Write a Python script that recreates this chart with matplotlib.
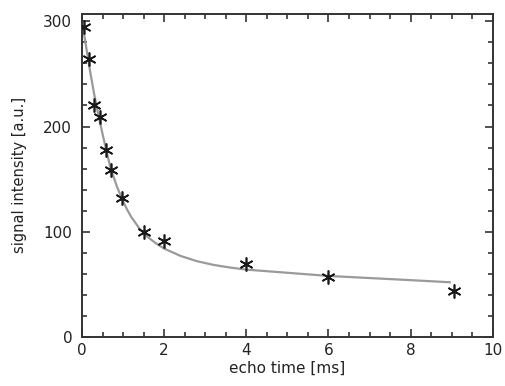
import numpy as np
import matplotlib.pyplot as plt
from matplotlib.ticker import MultipleLocator

# measured points
echo_time = [0.05, 0.17, 0.30, 0.45, 0.58, 0.71, 0.97, 1.5, 2.0, 4.0, 6.0, 9.05]
signal = [295, 264, 220, 209, 178, 159, 132, 100, 91, 69, 57, 44]

# fitted curve
fit_t = [0.0, 0.1, 0.2, 0.3, 0.4, 0.5, 0.6, 0.7, 0.85, 1.0, 1.1, 1.2, 1.4, 1.6,
         1.8, 2.0, 2.4, 2.8, 3.2, 3.6, 4.0, 5.0, 6.0, 7.0, 8.0, 8.95]
fit_s = [300, 276, 252, 230, 211, 193, 176, 160, 143, 129, 121, 114, 103, 95,
         89, 84, 77, 72, 68.5, 66, 64, 61, 58, 56, 54, 52]

fig = plt.figure(figsize=(5.06, 3.86), dpi=100)
ax = fig.add_axes([0.162, 0.127, 0.812, 0.837])

ax.plot(fit_t, fit_s, color='#9a9a9a', lw=1.6, zorder=2)
ax.plot(echo_time, signal, ls='none', marker=(6, 2, 0), ms=10, mew=1.2,
        color='#1a1a1a', zorder=3)

ax.set_xlim(0, 10)
ax.set_ylim(0, 307)
ax.set_xticks([0, 2, 4, 6, 8, 10])
ax.set_yticks([0, 100, 200, 300])
ax.xaxis.set_minor_locator(MultipleLocator(0.5))
ax.yaxis.set_minor_locator(MultipleLocator(20))
ax.tick_params(which='both', direction='in', top=True, right=True,
               width=1.2, color='#333333', labelsize=11, labelcolor='#222222')
ax.tick_params(axis='y', pad=7)
ax.tick_params(axis='x', pad=4)
ax.tick_params(which='major', length=6)
ax.tick_params(which='minor', length=3.5)
for s in ax.spines.values():
    s.set_linewidth(1.4)
    s.set_color('#333333')

ax.set_xlabel('echo time [ms]', fontsize=11, labelpad=2, color='#222222')
ax.set_ylabel('signal intensity [a.u.]', fontsize=10.5, labelpad=12,
              color='#222222')

fig.savefig('out.png', dpi=100)
